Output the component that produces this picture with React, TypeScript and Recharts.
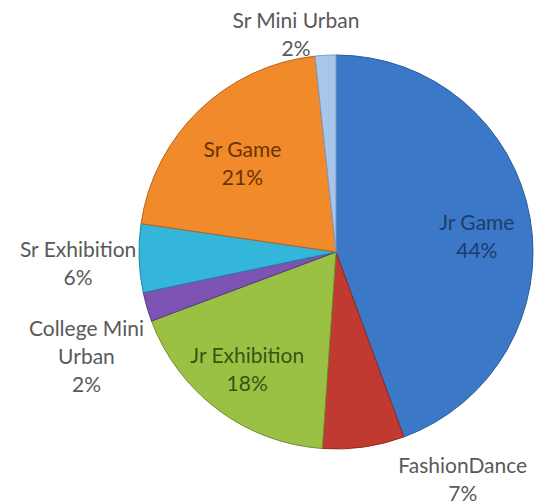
import React from 'react';
import { PieChart, Pie, Cell } from 'recharts';

const categories = ['Jr Game', 'FashionDance', 'Jr Exhibition', 'College Mini Urban', 'Sr Exhibition', 'Sr Game', 'Sr Mini Urban'];
const values = [44.4, 6.7, 18.2, 2.4, 5.6, 21.0, 1.7];
const labelLines = [['Jr Game'], ['FashionDance'], ['Jr Exhibition'], ['College Mini', 'Urban'], ['Sr Exhibition'], ['Sr Game'], ['Sr Mini Urban']];

const colors = ['#3b78c8', '#c13a31', '#9bc144', '#7c52b3', '#33b6da', '#f08a2a', '#a8c5ea'];
const strokeColors = ['#2a5a9a', '#8e2a22', '#6f8e2e', '#5a3a85', '#1f88a6', '#b8621a', '#7f9cc2'];
const textColors = ['#1d3d6a', '#595959', '#3a5412', '#595959', '#595959', '#6a3300', '#595959'];
// label placement: [angle offset from slice middle (deg), radius factor]
const labelPlacement: [number, number][] = [
  [-3.2, 0.72],
  [21.2, 1.315],
  [-0.8, 0.74],
  [6.2, 1.37],
  [0.4, 1.31],
  [2.1, 0.66],
  [7.3, 1.13],
];

const data = categories.map((name, i) => ({ name, value: values[i] }));

const RAD = Math.PI / 180;
const LH = 28;

const renderLabel = (props: any) => {
  const { cx, cy, midAngle, outerRadius, percent, index } = props;
  const [off, f] = labelPlacement[index];
  const a = (midAngle + off) * RAD;
  const r = outerRadius * f;
  const x = cx + r * Math.cos(-a);
  const y = cy + r * Math.sin(-a);
  const lines = [...labelLines[index], `${Math.round(percent * 100)}%`];
  const start = -((lines.length - 1) / 2) * LH;
  return (
    <text
      x={x}
      y={y}
      textAnchor="middle"
      dominantBaseline="central"
      fill={textColors[index]}
      fontFamily="Lato, 'Open Sans', sans-serif"
      fontSize={21}
    >
      {lines.map((l, k) => (
        <tspan key={k} x={x} dy={k === 0 ? start : LH}>
          {l}
        </tspan>
      ))}
    </text>
  );
};

export default function App() {
  return (
    <div style={{ position: 'absolute', left: 0, top: 0, width: 543, height: 503, background: '#fff' }}>
      <PieChart width={543} height={503} margin={{ top: 0, right: 0, bottom: 0, left: 0 }}>
        <Pie
          data={data}
          dataKey="value"
          nameKey="name"
          cx={336}
          cy={252}
          outerRadius={197}
          startAngle={90}
          endAngle={-270}
          label={renderLabel}
          labelLine={false}
          isAnimationActive={false}
        >
          {data.map((d, i) => (
            <Cell key={d.name} fill={colors[i]} stroke={strokeColors[i]} strokeWidth={1} />
          ))}
        </Pie>
      </PieChart>
    </div>
  );
}
